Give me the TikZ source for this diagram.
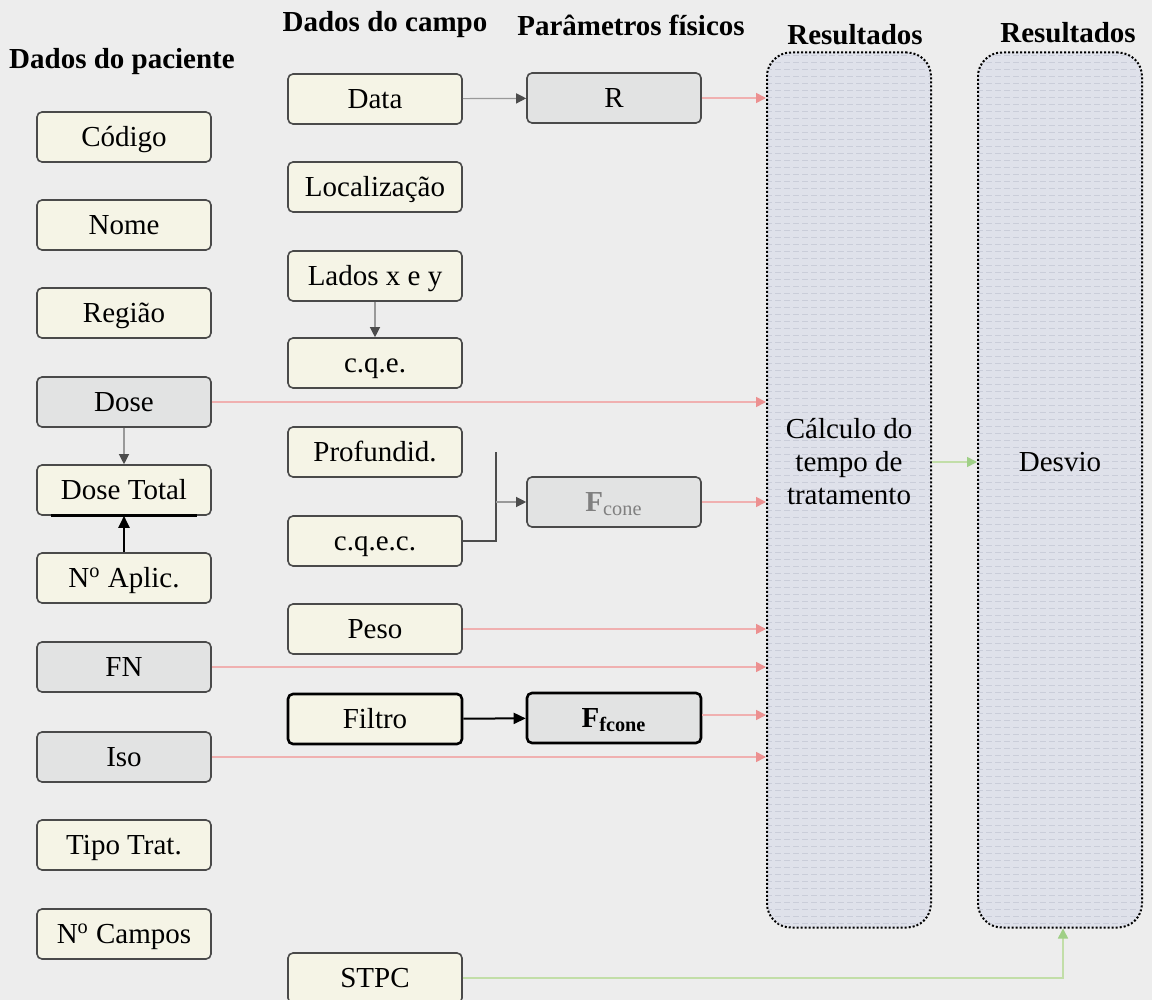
\documentclass[tikz,border=0pt]{standalone}
\usepackage{fontspec}
\setmainfont{Liberation Serif}
\usetikzlibrary{arrows.meta,calc}
\definecolor{bg}{HTML}{EDEDED}
\definecolor{cream}{HTML}{F5F4E6}
\definecolor{grayfill}{HTML}{E2E3E3}
\definecolor{lav}{HTML}{DFE1EA}
\definecolor{lavline}{HTML}{CACDD9}
\definecolor{pinkline}{HTML}{F0B0B0}
\definecolor{pinkhead}{HTML}{EC9090}
\definecolor{greenline}{HTML}{C2DEA8}
\definecolor{greenhead}{HTML}{9FCF86}
\definecolor{edge}{HTML}{4A4A4A}

\begin{document}
\begin{tikzpicture}[x=0.5pt,y=-0.5pt,
  every node/.style={font=\fontsize{14.5pt}{16.5pt}\selectfont},
  box/.style={draw=edge, line width=0.8pt, rounded corners=2.5pt, fill=cream,
    minimum width=87pt, minimum height=25pt, inner sep=0pt,
    text height=9.6pt, text depth=0pt},
  gbox/.style={box, fill=grayfill},
  hbox/.style={box, draw=black, line width=1.3pt},
  bigbox/.style={draw=black, line width=1pt, densely dotted, rounded corners=12pt,
    fill=lav, minimum width=82pt, minimum height=437.5pt, inner sep=0pt},
  bigtext/.style={align=center, inner sep=0pt,
    font=\fontsize{14.5pt}{16.5pt}\selectfont},
  head/.style={font=\fontsize{14.5pt}{16.5pt}\selectfont\bfseries},
  toresult/.style={draw=pinkline, line width=0.8pt,
    -{Triangle[length=5pt,width=5pt,color=pinkhead]}},
  greenarrow/.style={draw=greenline, line width=0.8pt,
    -{Triangle[length=5pt,width=5pt,color=greenhead]}},
  grayarrow/.style={draw=gray!80, line width=0.6pt,
    -{Triangle[length=5pt,width=5pt,color=black!70]}},
  blackarrow/.style={draw=black, line width=1pt,
    -{Triangle[length=6pt,width=5.5pt,color=black]}},
]
\useasboundingbox (0,0) rectangle (1152,1000);
\fill[bg] (0,0) rectangle (1152,1000);

% column headings
\node[head] (hpac) at (122,62) {Dados do paciente};
\node[head] (hcampo) at (385,25) {Dados do campo};
\node[head] (hfis) at (631,25) {Parâmetros físicos};
\node[head] (hres1) at (855,35) {Resultados};
\node[head] (hres2) at (1068,33) {Resultados};

% patient data
\node[box]  (cod)     at (124,137) {Código};
\node[box]  (nome)    at (124,225) {Nome};
\node[box]  (regiao)  at (124,313) {Região};
\node[gbox] (dose)    at (124,402) {Dose};
\node[box]  (dosetot) at (124,490) {Dose Total};
\node[box]  (naplic)  at (124,578) {N\textsuperscript{o} Aplic.};
\node[gbox] (fn)      at (124,667) {FN};
\node[gbox] (iso)     at (124,757) {Iso};
\node[box]  (tipo)    at (124,845) {Tipo Trat.};
\node[box]  (ncampos) at (124,934) {N\textsuperscript{o} Campos};

% field data
\node[box]  (data)   at (375,99)  {Data};
\node[box]  (loc)    at (375,187) {Localização};
\node[box]  (lados)  at (375,276) {Lados x e y};
\node[box]  (cqe)    at (375,363) {c.q.e.};
\node[box]  (prof)   at (375,452) {Profundid.};
\node[box]  (cqec)   at (375,541) {c.q.e.c.};
\node[box]  (peso)   at (375,629) {Peso};
\node[hbox] (filtro) at (375,719) {Filtro};
\node[box]  (stpc)   at (375,978) {STPC};

% physical parameters
\node[gbox] (r)      at (614,98)  {R};
\node[gbox, text=black!50] (fcone) at (614,502) {\textbf{F}\textsubscript{cone}};
\node[gbox, draw=black, line width=1.3pt] (ffcone) at (614,718) {\textbf{F}\textsubscript{\textbf{fcone}}};

% result panels with their striped fill
\node[bigbox] (calc)   at (849,490) {};
\node[bigbox] (desvio) at (1060,490) {};
\foreach \p in {calc,desvio}{
  \begin{scope}
    \clip[rounded corners=11pt] ($(\p.north west)+(2,2)$) rectangle ($(\p.south east)+(-2,-2)$);
    \foreach \k in {0,...,126}{
      \draw[lavline, line width=0.5pt, dash pattern=on 3pt off 1.5pt]
        ($(\p.north west)+(0,4+7*\k)$) -- ($(\p.north east)+(0,4+7*\k)$);
    }
  \end{scope}
}
\node[bigtext] (calctext) at (849,462) {Cálculo do\\tempo de\\tratamento};
\node[bigtext] (desviotext) at (1060,462) {Desvio};

% links inside the columns
\draw[grayarrow] (data) -- (r);
\draw[grayarrow] (lados) -- (cqe);
\draw[grayarrow] (dose) -- (dosetot);
\draw[blackarrow] (naplic) -- (dosetot);
\draw[line width=1.4pt] ($(dosetot.south west)+(15,0)$) -- ($(dosetot.south east)+(-15,0)$);
\coordinate (jn) at (496,502);
\draw[draw=black!70, line width=0.6pt] (cqec.east) -| (jn) -- (jn |- prof.east);
\draw[grayarrow] (jn) -- (fcone);
\draw[blackarrow] (filtro) -- (ffcone);

% inputs of the time calculation
\draw[toresult] (r.east) -- (r.east -| calc.west);
\draw[toresult] (dose.east) -- (dose.east -| calc.west);
\draw[toresult] (fcone.east) -- (fcone.east -| calc.west);
\draw[toresult] (peso.east) -- (peso.east -| calc.west);
\draw[toresult] (fn.east) -- (fn.east -| calc.west);
\draw[toresult] ([yshift=1.5pt]ffcone.east) -- ([yshift=1.5pt]ffcone.east -| calc.west);
\draw[toresult] (iso.east) -- (iso.east -| calc.west);

% deviation
\draw[greenarrow] ([yshift=14pt]calc.east) -- ([yshift=14pt]desvio.west);
\draw[greenarrow] (stpc.east) -| ([xshift=1.5pt]desvio.south);
\end{tikzpicture}
\end{document}
